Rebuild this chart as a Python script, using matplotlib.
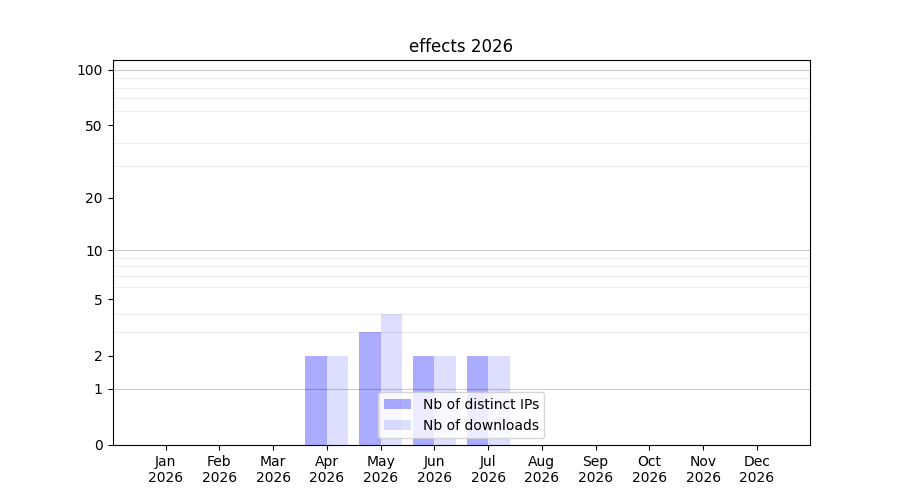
import numpy as np
import matplotlib
matplotlib.use('Agg')
import matplotlib.pyplot as plt
from matplotlib.ticker import FixedLocator

months = ['Jan', 'Feb', 'Mar', 'Apr', 'May', 'Jun', 'Jul', 'Aug', 'Sep', 'Oct', 'Nov', 'Dec']
year = 2026
distinct_ips = [0, 0, 0, 2, 3, 2, 2, 0, 0, 0, 0, 0]
downloads = [0, 0, 0, 2, 4, 2, 2, 0, 0, 0, 0, 0]
ytick_values = [0, 1, 2, 5, 10, 20, 50, 100]


def fwd(y):
    return np.log10(np.maximum(np.asarray(y, dtype=float) + 1, 1e-9))


def inv(y):
    return 10 ** np.asarray(y, dtype=float) - 1


fig, ax = plt.subplots(figsize=(9, 5), dpi=100)

x = np.arange(len(months))
width = 0.4
ax.bar(x - width / 2, distinct_ips, width, color='blue', alpha=0.33, label='Nb of distinct IPs')
ax.bar(x + width / 2, downloads, width, color='blue', alpha=0.13, label='Nb of downloads')

ax.set_yscale('function', functions=(fwd, inv))
ax.set_ylim(0, 113)

# light lines for every unit within each decade, darker ones on decades
minor = [v * d for d in (1, 10) for v in range(2, 10)]
ax.yaxis.set_minor_locator(FixedLocator(minor))
ax.tick_params(axis='y', which='minor', length=0)
ax.grid(True, axis='y', which='minor', color='#eeeeee', linewidth=0.8)
for d in (1, 10, 100):
    ax.axhline(d, color='#cccccc', linewidth=0.8, zorder=0.5)

ax.set_yticks(ytick_values)
ax.set_yticklabels([str(v) for v in ytick_values])
ax.set_xticks(x)
ax.set_xticklabels(['{}\n{}'.format(m, year) for m in months])
ax.set_axisbelow(True)

ax.set_title('effects {}'.format(year))
ax.legend(loc='lower center')

fig.savefig('out.png', dpi=100)
